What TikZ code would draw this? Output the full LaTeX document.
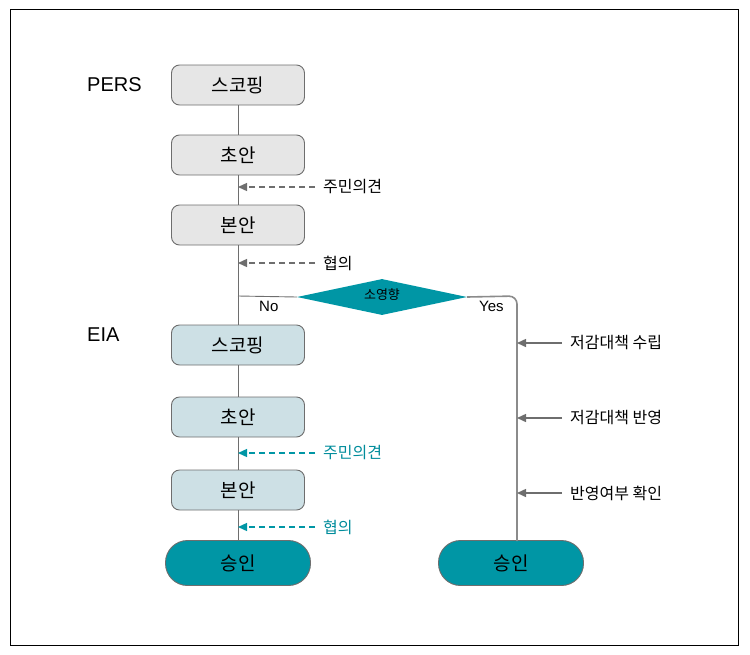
\documentclass[tikz,border=0pt]{standalone}
\usepackage{fontspec}
\setmainfont{Liberation Sans}
\newfontfamily\kr{Noto Sans CJK KR}
\usetikzlibrary{shapes.geometric,arrows.meta}
\definecolor{teal1}{RGB}{0,150,165}
\definecolor{tealtx}{RGB}{0,140,155}
\definecolor{boxgray}{RGB}{230,230,230}
\definecolor{boxblue}{RGB}{205,224,229}
\definecolor{edge}{RGB}{110,110,110}
\tikzset{
  stepbox/.style={draw=edge, line width=0.9pt, rounded corners=8pt, minimum width=133pt, minimum height=40pt, inner sep=0pt, font=\kr\fontsize{19}{19}\selectfont},
  pers/.style={stepbox, fill=boxgray},
  eia/.style={stepbox, fill=boxblue},
  pill/.style={draw=edge, line width=0.9pt, fill=teal1, rounded corners=22pt, minimum width=145pt, minimum height=45pt, inner sep=0pt, font=\kr\fontsize{19}{19}\selectfont},
  flow/.style={draw=edge, line width=0.9pt},
  lbl/.style={anchor=west, inner sep=0pt, font=\kr\fontsize{16}{16}\selectfont},
  dasharr/.style={draw=edge, line width=1.3pt, dash pattern=on 6pt off 4pt, -{Triangle[length=9pt,width=8pt]}},
  tealarr/.style={draw=teal1, line width=1.3pt, dash pattern=on 6pt off 4pt, -{Triangle[length=9pt,width=8pt]}},
  solarr/.style={draw=edge, line width=1.5pt, -{Triangle[length=9pt,width=8pt]}},
}
\begin{document}
\begin{tikzpicture}[x=1pt,y=-1pt]
\useasboundingbox (0,0) rectangle (750,654);
\draw[black, line width=0.7pt] (10,9) rectangle (738,645);

\node[anchor=west, inner sep=0pt, font=\fontsize{20}{20}\selectfont] (pl) at (87,85) {PERS};
\node[anchor=west, inner sep=0pt, font=\fontsize{20}{20}\selectfont] (el) at (87,335) {EIA};

\node[pers] (p1) at (238,85) {스코핑};
\node[pers] (p2) at (238,155) {초안};
\node[pers] (p3) at (238,225) {본안};

\node[diamond, fill=teal1, draw=none, inner sep=0pt, minimum width=170pt, minimum height=36pt] (d) at (382,297) {};
\node[inner sep=0pt, font=\kr\fontsize{13}{13}\selectfont] (dt) at (382,295) {소영향};

\node[eia] (e1) at (238,345) {스코핑};
\node[eia] (e2) at (238,417) {초안};
\node[eia] (e3) at (238,490) {본안};
\node[pill] (a1) at (238,563) {승인};
\node[pill] (a2) at (511,563) {승인};

\draw[flow] (p1) -- (p2);
\draw[flow] (p2) -- (p3);
\draw[flow] (p3) -- (e1);
\draw[flow] (e1) -- (e2);
\draw[flow] (e2) -- (e3);
\draw[flow] (e3) -- (a1);

\coordinate (jl) at (238,296);
\coordinate (bot) at (517,541);
\draw[flow] (jl) -- (d.west);
\draw[draw=edge!80, line width=1.6pt, rounded corners=8pt] (d.east) -- (517,296) -- (bot);

\node[anchor=west, inner sep=0pt, font=\fontsize{15}{15}\selectfont] (no) at (259,306) {No};
\node[anchor=west, inner sep=0pt, font=\fontsize{15}{15}\selectfont] (yes) at (479,306) {Yes};

% PERS dashed inputs
\node[lbl] (l1) at (323,187) {주민의견};
\node[lbl] (l2) at (323,263) {협의};
\coordinate (t1) at (238,187);
\coordinate (t2) at (238,263);
\draw[dasharr] ([xshift=-8pt]l1.west) -- (t1);
\draw[dasharr] ([xshift=-8pt]l2.west) -- (t2);

% EIA teal inputs
\node[lbl, text=tealtx] (l3) at (323,453) {주민의견};
\node[lbl, text=tealtx] (l4) at (323,527) {협의};
\coordinate (t3) at (238,453);
\coordinate (t4) at (238,527);
\draw[tealarr] ([xshift=-8pt]l3.west) -- (t3);
\draw[tealarr] ([xshift=-8pt]l4.west) -- (t4);

% right solid inputs
\node[lbl] (r1) at (570,343) {저감대책 수립};
\node[lbl] (r2) at (570,418) {저감대책 반영};
\node[lbl] (r3) at (570,493) {반영여부 확인};
\coordinate (s1) at (517,343);
\coordinate (s2) at (517,418);
\coordinate (s3) at (517,493);
\draw[solarr] ([xshift=-8pt]r1.west) -- (s1);
\draw[solarr] ([xshift=-8pt]r2.west) -- (s2);
\draw[solarr] ([xshift=-8pt]r3.west) -- (s3);
\end{tikzpicture}
\end{document}
